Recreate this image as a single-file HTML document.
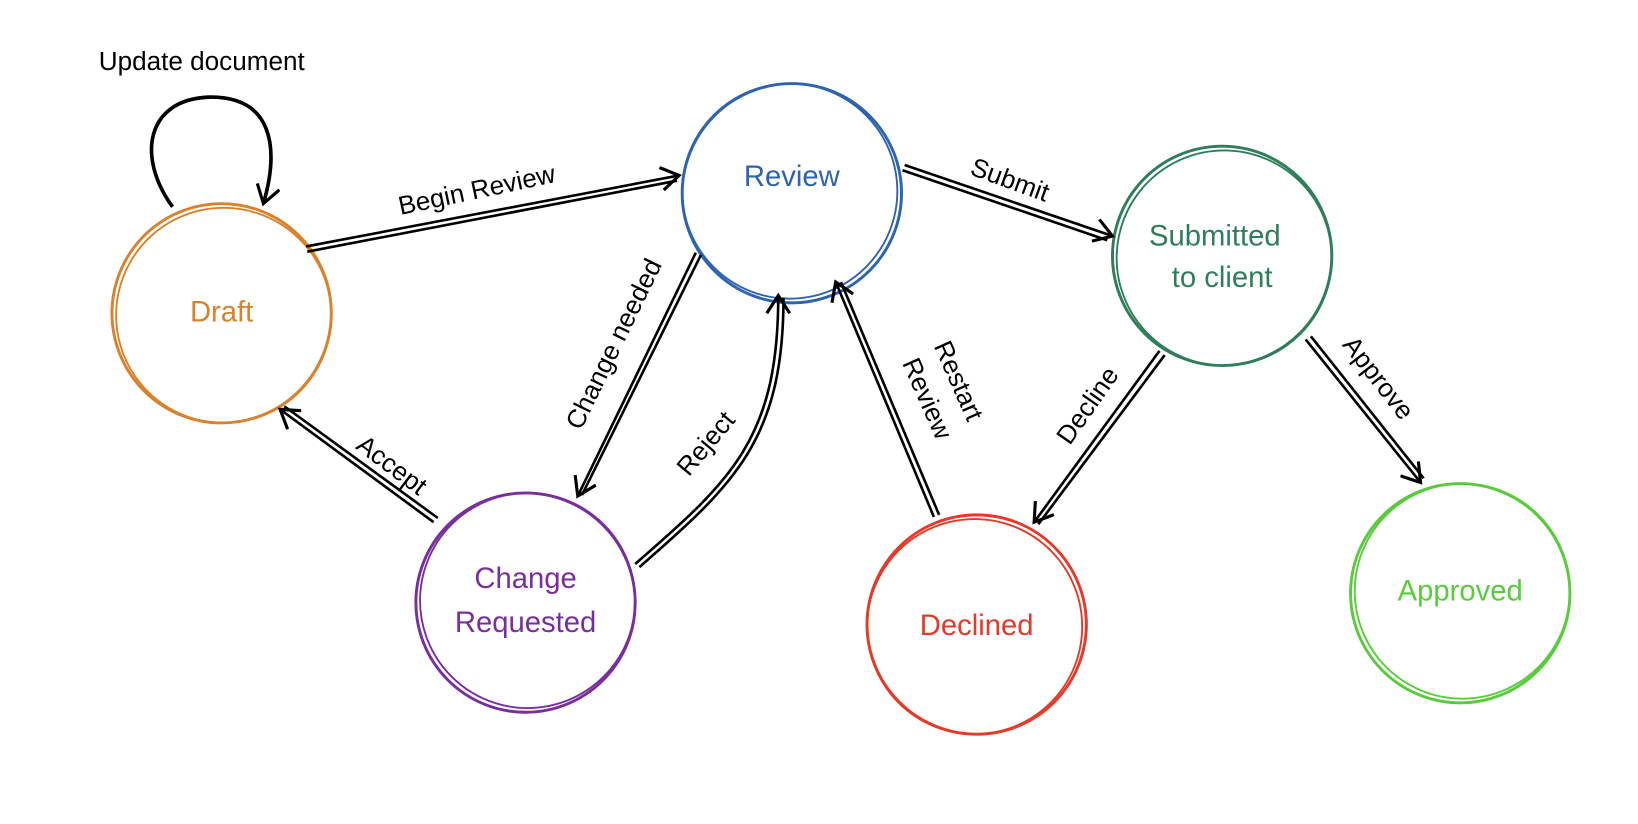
<!DOCTYPE html>
<html><head><meta charset="utf-8"><style>
html,body{margin:0;padding:0;background:#fff;width:1638px;height:824px;overflow:hidden}
svg{display:block}
text{font-family:"Liberation Sans",sans-serif}
</style></head><body>
<svg width="1638" height="824" viewBox="0 0 1568 789" xmlns="http://www.w3.org/2000/svg">
<defs>
<marker id="a" markerWidth="22" markerHeight="24" refX="18" refY="12" orient="auto" markerUnits="userSpaceOnUse">
<path d="M1,1 L18,12 L1,23" fill="none" stroke="#000" stroke-width="3"/>
</marker>
</defs>
<g fill="none" stroke-width="2.8">
<circle cx="212" cy="300" r="105" stroke="#d9822b"/><circle cx="214" cy="302" r="103" stroke="#d9822b" stroke-width="1.8"/>
<circle cx="758" cy="185" r="105" stroke="#2f63b0"/><circle cx="756" cy="183" r="103" stroke="#2f63b0" stroke-width="1.8"/>
<circle cx="1170" cy="245" r="105" stroke="#2e7d5b"/><circle cx="1172" cy="247" r="103" stroke="#2e7d5b" stroke-width="1.8"/>
<circle cx="503" cy="577" r="105" stroke="#7a2e9c"/><circle cx="505" cy="575" r="103" stroke="#7a2e9c" stroke-width="1.8"/>
<circle cx="935" cy="598" r="105" stroke="#e53a2a"/><circle cx="933" cy="600" r="103" stroke="#e53a2a" stroke-width="1.8"/>
<circle cx="1398" cy="568" r="105" stroke="#5acb3c"/><circle cx="1400" cy="566" r="103" stroke="#5acb3c" stroke-width="1.8"/>
</g>
<g fill="none" stroke="#000" stroke-width="2.5">
<path d="M293,236 L650,168" marker-end="url(#a)"/><path d="M294,241 L648,173"/>
<path d="M866,158 L1065,226" marker-end="url(#a)"/><path d="M864,163 L1060,230"/>
<path d="M666,242 L553,475" marker-end="url(#a)"/><path d="M671,244 L557,474"/>
<path d="M608,540 C700,460 745,420 745,283" marker-end="url(#a)"/><path d="M612,543 C704,463 750,420 750,285"/>
<path d="M415,500 L268,392" marker-end="url(#a)"/><path d="M419,496 L272,389"/>
<path d="M894,495 L800,270" marker-end="url(#a)"/><path d="M899,493 L805,270"/>
<path d="M1110,336 L990,500" marker-end="url(#a)"/><path d="M1115,340 L994,502"/>
<path d="M1250,325 L1360,462" marker-end="url(#a)"/><path d="M1255,322 L1363,458"/>
<path d="M165,198 C130,150 140,95 200,93 C260,92 268,140 252,195" marker-end="url(#a)" stroke-width="3.5"/>
</g>
<g font-size="28" text-anchor="middle">
<text x="212" y="308" fill="#d9822b">Draft</text>
<text x="758" y="178" fill="#2f63b0">Review</text>
<text x="1163" y="235" fill="#2e7d5b">Submitted</text>
<text x="1170" y="275" fill="#2e7d5b">to client</text>
<text x="503" y="563" fill="#7a2e9c">Change</text>
<text x="503" y="605" fill="#7a2e9c">Requested</text>
<text x="935" y="608" fill="#e53a2a">Declined</text>
<text x="1398" y="575" fill="#5acb3c">Approved</text>
</g>
<g font-size="25" fill="#000" text-anchor="middle">
<text x="193" y="67">Update document</text>
<text transform="translate(458,190) rotate(-12)">Begin Review</text>
<text transform="translate(964,180) rotate(20)">Submit</text>
<text transform="translate(595,333) rotate(-64)">Change needed</text>
<text transform="translate(682,430) rotate(-50)">Reject</text>
<text transform="translate(370,452) rotate(37)">Accept</text>
<text transform="translate(910,368) rotate(66)">Restart</text>
<text transform="translate(880,385) rotate(66)">Review</text>
<text transform="translate(1048,393) rotate(-55)">Decline</text>
<text transform="translate(1313,367) rotate(52)">Approve</text>
</g>
</svg>
</body></html>
